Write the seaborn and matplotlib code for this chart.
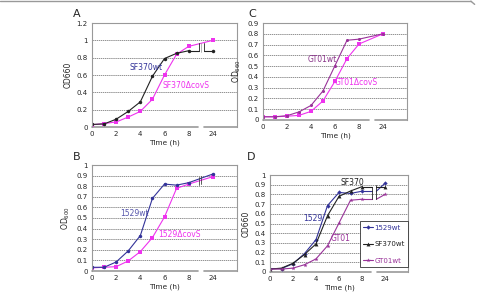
import matplotlib
matplotlib.use('Agg')
import matplotlib.pyplot as plt
import seaborn as sns
import pandas as pd

# sampling times (h); 24 h sits after an axis break
hours = [0, 1, 2, 3, 4, 5, 6, 7, 8, 24]
xpos = [0, 1, 2, 3, 4, 5, 6, 7, 8, 10]
tick_pos = [0, 2, 4, 6, 8, 10]
tick_labels = ['0', '2', '4', '6', '8', '24']

# OD660 readings
sf370_wt = [0.03, 0.035, 0.09, 0.18, 0.29, 0.585, 0.79, 0.85, 0.88, 0.88]
sf370_covs = [0.025, 0.04, 0.058, 0.115, 0.18, 0.32, 0.60, 0.84, 0.93, 1.0]
gt01_wt = [0.03, 0.03, 0.04, 0.075, 0.135, 0.27, 0.505, 0.74, 0.75, 0.80]
gt01_covs = [0.03, 0.03, 0.035, 0.043, 0.08, 0.177, 0.36, 0.57, 0.705, 0.80]
s1529_wt = [0.035, 0.035, 0.085, 0.19, 0.334, 0.685, 0.82, 0.81, 0.833, 0.915]
s1529_covs = [0.03, 0.035, 0.041, 0.095, 0.183, 0.315, 0.51, 0.78, 0.82, 0.89]
sf370_wt_d = [0.03, 0.04, 0.09, 0.18, 0.29, 0.58, 0.78, 0.835, 0.88, 0.88]

BLACK = '#222222'
MAG = '#ee33ee'
BLUE = '#333399'
PURP = '#993399'

sns.set_style('white')
plt.rcParams['font.family'] = ['DejaVu Sans']

fig = plt.figure(figsize=(4.78, 2.92), dpi=100)

# thin frame line along the top
fig.add_artist(plt.Line2D([0, 0.985], [0.996, 0.996], color='#999999', lw=1, transform=fig.transFigure))
fig.add_artist(plt.Line2D([0.985, 0.993], [0.996, 0.985], color='#999999', lw=1, transform=fig.transFigure))


def setup(ax, ymax, ystep, ylabel):
    ax.set_xlim(0, 12)
    ax.set_ylim(0, ymax)
    n = int(round(ymax / ystep))
    yt = [round(i * ystep, 2) for i in range(n + 1)]
    ax.set_yticks(yt)
    ax.set_yticklabels([f'{v:g}' for v in yt])
    ax.set_xticks(tick_pos)
    ax.set_xticklabels(tick_labels)
    ax.tick_params(length=0, labelsize=5, pad=3)
    for v in yt[1:]:
        ax.axhline(v, color='#666666', lw=0.5, ls=(0, (2, 1)), zorder=0)
    for s in ['top', 'left', 'right']:
        ax.spines[s].set_color('#999999')
        ax.spines[s].set_linewidth(0.8)
    ax.spines['bottom'].set_visible(False)
    # bottom axis line with a break near 24 h
    tr = ax.get_xaxis_transform()
    ax.plot([0, 8.8], [0, 0], color='#999999', lw=1.2, transform=tr, clip_on=False)
    ax.plot([9.3, 12], [0, 0], color='#999999', lw=1.2, transform=tr, clip_on=False)
    ax.set_xlabel('Time (h)', fontsize=5.3, labelpad=1.5)
    ax.set_ylabel(ylabel, fontsize=5.5, labelpad=3)


def series(ax, vals, color, marker, ms=2.5, gap=False):
    if gap:
        df = pd.DataFrame({'x': xpos[:9], 'y': vals[:9]})
        sns.lineplot(data=df, x='x', y='y', ax=ax, color=color, lw=0.8, marker=marker,
                     markersize=ms, markeredgewidth=0, estimator=None)
        ax.plot([8, 8.85], [vals[8], vals[8]], color=color, lw=0.8)
        ax.plot([9.25, 10], [vals[8], vals[9]], color=color, lw=0.8)
        ax.plot([10], [vals[9]], color=color, marker=marker, ms=ms, mew=0)
    else:
        df = pd.DataFrame({'x': xpos, 'y': vals})
        sns.lineplot(data=df, x='x', y='y', ax=ax, color=color, lw=0.8, marker=marker,
                     markersize=ms, markeredgewidth=0, estimator=None)


def fw(px):
    return px / 478


def fh(py):
    return py / 292


# Panel A
axA = fig.add_axes([fw(92), 1 - fh(127), fw(145), fh(104)])
setup(axA, 1.2, 0.2, 'OD660')
series(axA, sf370_covs, MAG, 's', ms=2.8)
series(axA, sf370_wt, BLACK, 'o', ms=2.5, gap=True)
axA.plot([8.85, 8.85], [sf370_wt[8], 0.97], color=BLACK, lw=0.6)
axA.plot([9.25, 9.25], [sf370_wt[8], 0.97], color=BLACK, lw=0.6)
axA.plot([9.05, 9.05], [0.86, 0.97], color='#999999', lw=0.5)
axA.text(4.5, 0.69, 'SF370wt', color=BLUE, fontsize=5.5, ha='center', va='center')
axA.text(5.8, 0.48, 'SF370ΔcovS', color=MAG, fontsize=5.5, ha='left', va='center')

# Panel C
axC = fig.add_axes([fw(263), 1 - fh(120), fw(144), fh(97)])
setup(axC, 0.9, 0.1, 'OD$_{660}$')
series(axC, gt01_covs, MAG, 's', ms=2.8)
series(axC, gt01_wt, PURP, 'o', ms=2.2)
axC.text(4.9, 0.56, 'GT01wt', color='#883388', fontsize=5.5, ha='center', va='center')
axC.text(6.0, 0.35, 'GT01ΔcovS', color=MAG, fontsize=5.5, ha='left', va='center')

# Panel B
axB = fig.add_axes([fw(92), 1 - fh(271), fw(145), fh(106)])
setup(axB, 1.0, 0.1, 'OD$_{600}$')
series(axB, s1529_covs, MAG, 's', ms=2.8)
series(axB, s1529_wt, BLUE, 'o', ms=2.5)
axB.plot([8.85, 8.85], [0.81, 0.89], color='#444444', lw=0.6)
axB.plot([9.05, 9.05], [0.82, 0.90], color='#444444', lw=0.6)
axB.text(3.5, 0.545, '1529wt', color='#5555aa', fontsize=5.5, ha='center', va='center')
axB.text(5.5, 0.34, '1529ΔcovS', color=MAG, fontsize=5.5, ha='left', va='center')

# Panel D
axD = fig.add_axes([fw(270), 1 - fh(272), fw(138), fh(97)])
setup(axD, 1.0, 0.1, 'OD660')
series(axD, s1529_wt, BLUE, 'D', ms=2.2, gap=True)
series(axD, sf370_wt_d, BLACK, '^', ms=2.8, gap=True)
series(axD, gt01_wt, PURP, '*', ms=3.2, gap=True)
lo = min(s1529_wt[8], sf370_wt_d[8], gt01_wt[8])
hi = max(s1529_wt[8], sf370_wt_d[8], gt01_wt[8])
axD.plot([8.85, 8.85], [lo, hi], color=BLACK, lw=0.6)
axD.plot([9.25, 9.25], [lo, hi + 0.02], color=BLACK, lw=0.6)
axD.text(7.2, 0.925, 'SF370', color=BLACK, fontsize=5.5, ha='center', va='center')
axD.text(3.7, 0.55, '1529', color=BLUE, fontsize=5.5, ha='center', va='center')
axD.text(6.1, 0.345, 'GT01', color=PURP, fontsize=5.5, ha='center', va='center')
handles = [
    plt.Line2D([], [], color=BLUE, marker='D', ms=2.2, lw=0.8, mew=0),
    plt.Line2D([], [], color=BLACK, marker='^', ms=2.8, lw=0.8, mew=0),
    plt.Line2D([], [], color=PURP, marker='*', ms=3.2, lw=0.8, mew=0),
]
leg = axD.legend(handles, ['1529wt', 'SF370wt', 'GT01wt'], loc='lower right',
                 bbox_to_anchor=(1.0, 0.05), fontsize=5, frameon=True, fancybox=False,
                 labelspacing=1.5, handlelength=1.5, handletextpad=0.1, borderpad=0.5,
                 borderaxespad=0, framealpha=1)
leg.get_frame().set_edgecolor('#333333')
leg.get_frame().set_linewidth(0.6)
for t, c in zip(leg.get_texts(), [BLUE, BLACK, PURP]):
    t.set_color(c)

# panel letters
for lab, x, y in [('A', 77, 14), ('C', 252, 14), ('B', 77, 157), ('D', 251, 157)]:
    fig.text(fw(x), 1 - fh(y), lab, fontsize=8, ha='center', va='center')

fig.savefig('out.png', dpi=100)
